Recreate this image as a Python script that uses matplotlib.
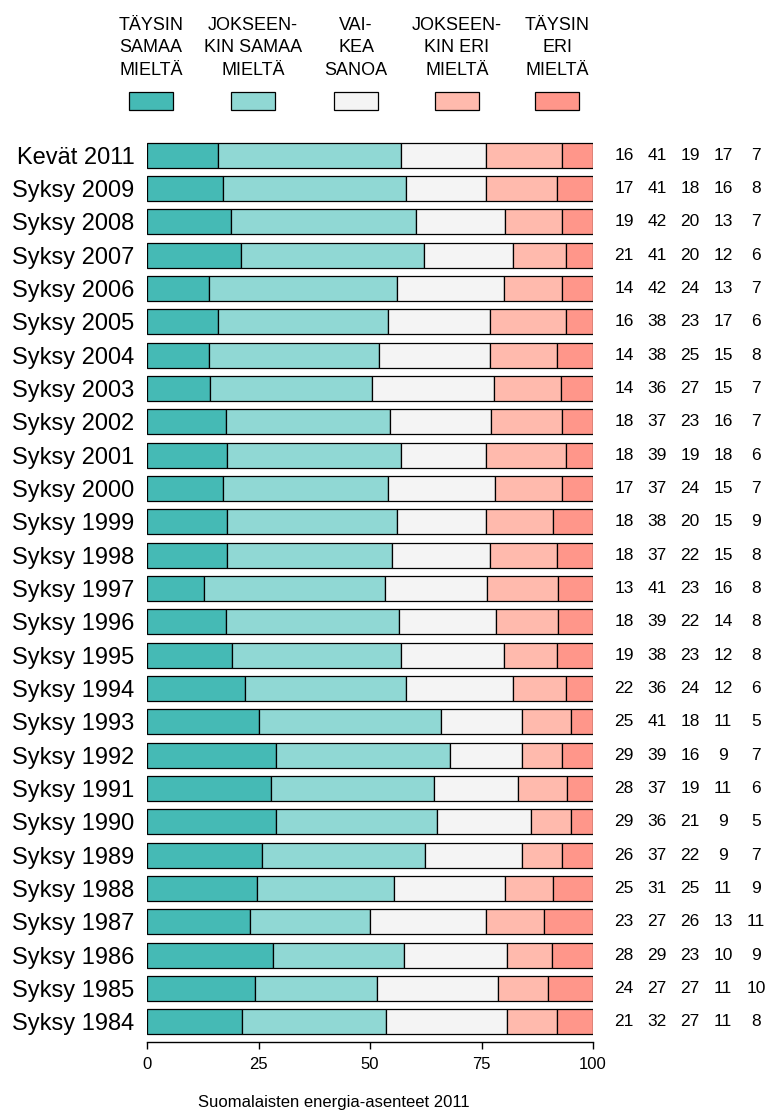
import matplotlib
matplotlib.use("Agg")
import matplotlib.pyplot as plt
from matplotlib.patches import Rectangle
import numpy as np

# data
rows = ["Kevät 2011", "Syksy 2009", "Syksy 2008", "Syksy 2007", "Syksy 2006",
        "Syksy 2005", "Syksy 2004", "Syksy 2003", "Syksy 2002", "Syksy 2001",
        "Syksy 2000", "Syksy 1999", "Syksy 1998", "Syksy 1997", "Syksy 1996",
        "Syksy 1995", "Syksy 1994", "Syksy 1993", "Syksy 1992", "Syksy 1991",
        "Syksy 1990", "Syksy 1989", "Syksy 1988", "Syksy 1987", "Syksy 1986",
        "Syksy 1985", "Syksy 1984"]
taysin_samaa = [16, 17, 19, 21, 14, 16, 14, 14, 18, 18, 17, 18, 18, 13, 18, 19, 22, 25, 29, 28, 29, 26, 25, 23, 28, 24, 21]
jokseenkin_samaa = [41, 41, 42, 41, 42, 38, 38, 36, 37, 39, 37, 38, 37, 41, 39, 38, 36, 41, 39, 37, 36, 37, 31, 27, 29, 27, 32]
vaikea_sanoa = [19, 18, 20, 20, 24, 23, 25, 27, 23, 19, 24, 20, 22, 23, 22, 23, 24, 18, 16, 19, 21, 22, 25, 26, 23, 27, 27]
jokseenkin_eri = [17, 16, 13, 12, 13, 17, 15, 15, 16, 18, 15, 15, 15, 16, 14, 12, 12, 11, 9, 11, 9, 9, 11, 13, 10, 11, 11]
taysin_eri = [7, 8, 7, 6, 7, 6, 8, 7, 7, 6, 7, 9, 8, 8, 8, 8, 6, 5, 7, 6, 5, 7, 9, 11, 9, 10, 8]

legend_labels = ["TÄYSIN\nSAMAA\nMIELTÄ", "JOKSEEN-\nKIN SAMAA\nMIELTÄ", "VAI-\nKEA\nSANOA",
                 "JOKSEEN-\nKIN ERI\nMIELTÄ", "TÄYSIN\nERI\nMIELTÄ"]
colors = ["#45BAB5", "#90D8D4", "#F4F4F4", "#FFBAAD", "#FF968A"]
footer = "Suomalaisten energia-asenteet 2011"

plt.rcParams["font.family"] = ["Liberation Sans", "DejaVu Sans"]

W, H = 771, 1115
fig = plt.figure(figsize=(W / 100, H / 100), dpi=100)
ax = fig.add_axes([147 / W, 1 - 1042 / H, 446 / W, 907 / H])

series = np.array([taysin_samaa, jokseenkin_samaa, vaikea_sanoa, jokseenkin_eri, taysin_eri], dtype=float)
shares = series / series.sum(axis=0) * 100
y = np.arange(len(rows))
left = np.zeros(len(rows))
for vals, c in zip(shares, colors):
    ax.barh(y, vals, left=left, height=0.75, color=c, edgecolor="black", linewidth=0.9)
    left += vals

ax.set_xlim(0, 100)
ax.set_ylim(len(rows) - 0.4, -0.6)
ax.set_yticks(y)
ax.set_yticklabels(rows, fontsize=17)
ax.tick_params(axis="y", length=0, pad=9)
ax.set_xticks([0, 25, 50, 75, 100])
ax.tick_params(axis="x", length=5, width=1, pad=6, labelsize=12)
for s in ["top", "right", "left"]:
    ax.spines[s].set_visible(False)
ax.spines["bottom"].set_linewidth(1)

# numbers on the right
col_x = [624, 657, 690, 723, 756]
for j, vals in enumerate(series):
    xf = (col_x[j] - 147) / 446
    for i, v in enumerate(vals):
        ax.text(xf, i, f"{int(v)}", transform=ax.get_yaxis_transform(),
                ha="center", va="center", fontsize=12.5, clip_on=False)

# legend on top
leg_x = [151, 253, 356, 457, 557]
for cx, lab, c in zip(leg_x, legend_labels, colors):
    fig.text(cx / W, 1 - 48 / H, lab, ha="center", va="center", fontsize=13,
             linespacing=1.42)
    fig.add_artist(Rectangle(((cx - 22) / W, 1 - 110 / H), 44 / W, 18 / H,
                             facecolor=c, edgecolor="black", linewidth=0.9,
                             transform=fig.transFigure))

fig.text(334 / W, 1 - 1102 / H, footer, ha="center", va="center", fontsize=12)

fig.savefig("out.png", dpi=100)
